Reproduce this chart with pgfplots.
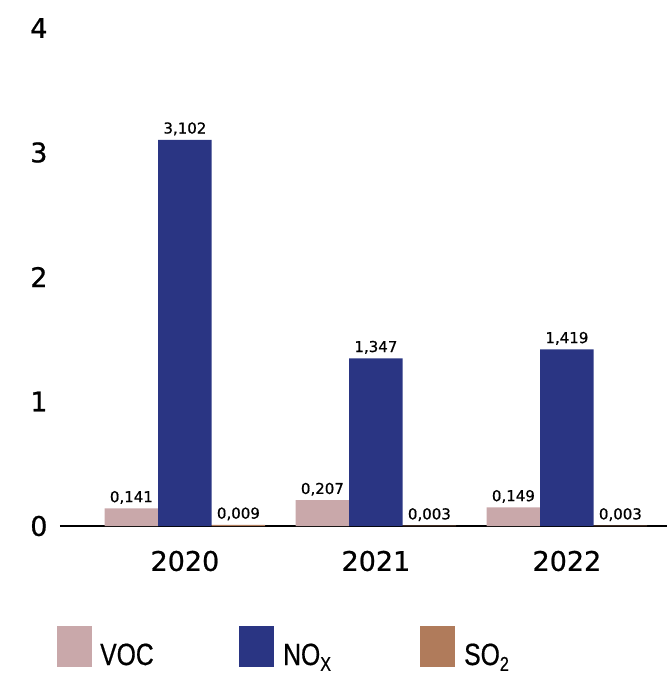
\documentclass[border=0pt]{standalone}
\usepackage{pgfplots}
\pgfplotsset{compat=1.18}
\usepackage{fontspec}
\setmainfont{DejaVu Sans}[FakeBold=0.6]
\newfontfamily\numfont{DejaVu Sans}[FakeBold=0.8]
\newfontfamily\legfont{Liberation Sans}[FakeBold=0.6]
\definecolor{voc}{HTML}{C9A8AA}
\definecolor{nox}{HTML}{2A3583}
\definecolor{sotwo}{HTML}{B07B5B}
\newcommand{\legtext}[2]{\scalebox{0.95}[1.18]{\legfont\fontsize{26}{26}\selectfont #1\raisebox{-5pt}{\fontsize{17}{17}\selectfont #2}}}
\begin{document}
\begin{tikzpicture}
\path[use as bounding box] (-60pt,-152pt) rectangle (607pt,526pt);
\begin{axis}[
  at={(0,0)}, anchor=south west,
  scale only axis,
  width=607pt, height=498pt,
  xmin=-0.654, xmax=2.524,
  ymin=0, ymax=4,
  axis x line*=bottom, axis y line*=left,
  y axis line style={draw=none},
  x axis line style={line width=1.8pt},
  ytick={0,1,2,3,4},
  xtick={0,1,2},
  xticklabels={2020,2021,2022},
  tick style={draw=none},
  /pgf/number format/assume math mode=true,
  ticklabel style={font=\numfont\fontsize{27}{27}\selectfont},
  yticklabel style={xshift=-9pt},
  xticklabel style={yshift=-17pt},
  ybar, bar width=53.5pt,
  nodes near coords,
  nodes near coords style={font=\fontsize{15}{15}\selectfont, yshift=1pt, /pgf/number format/.cd, fixed, fixed zerofill, precision=3, use comma, assume math mode=true},
  clip=false,
]
\addplot[fill=voc, draw=none, bar shift=-53.5pt] coordinates {(0,0.141) (1,0.207) (2,0.149)};
\addplot[fill=nox, draw=none, bar shift=0pt] coordinates {(0,3.102) (1,1.347) (2,1.419)};
\addplot[fill=sotwo, draw=none, bar shift=53.5pt] coordinates {(0,0.009) (1,0.003) (2,0.003)};
\end{axis}
% legend
\fill[voc] (-3pt,-100pt) rectangle (32pt,-141pt);
\node[anchor=base west, inner sep=0pt] at (40pt,-139pt) {\legtext{VOC}{}};
\fill[nox] (179pt,-100pt) rectangle (214pt,-141pt);
\node[anchor=base west, inner sep=0pt] at (223pt,-139pt) {\legtext{NO}{X}};
\fill[sotwo] (360pt,-100pt) rectangle (395pt,-141pt);
\node[anchor=base west, inner sep=0pt] at (404pt,-139pt) {\legtext{SO}{2}};
\end{tikzpicture}
\end{document}
